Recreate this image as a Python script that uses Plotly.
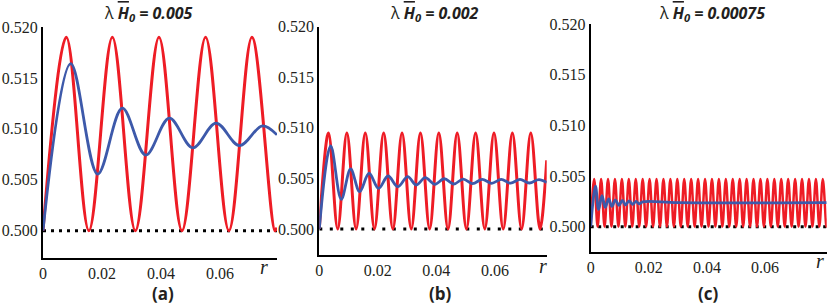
import plotly.graph_objects as go

# ---------------- data ----------------
# Panel (a): lambda*H0 = 0.005
a_red_r = [0, 0.0079, 0.01555, 0.0235, 0.0313, 0.0393, 0.0471, 0.0551, 0.0630, 0.0708, 0.0786, 0.0793]
a_red_y = [0.5, 0.519, 0.5, 0.519, 0.5, 0.519, 0.5, 0.519, 0.5, 0.519, 0.5, 0.5003]
a_blue_r = [0, 0.00939, 0.01854, 0.02688, 0.03481, 0.04281, 0.05075, 0.05864, 0.06654, 0.07434, 0.0793]
a_blue_y = [0.5, 0.5164, 0.50556, 0.51203, 0.50742, 0.51105, 0.50814, 0.51056, 0.50836, 0.51029, 0.50941]

# Panel (b): lambda*H0 = 0.002
b_red_r = [0, 0.00314, 0.00628, 0.00942, 0.01257, 0.01571, 0.01885, 0.02199, 0.02513, 0.02827,
           0.03142, 0.03456, 0.0377, 0.04084, 0.04398, 0.04712, 0.05027, 0.05341, 0.05655, 0.05969,
           0.06283, 0.06597, 0.06912, 0.07226, 0.0754, 0.0777]
b_red_y = [0.5, 0.5095, 0.5, 0.5095, 0.5, 0.5095, 0.5, 0.5095, 0.5, 0.5095,
           0.5, 0.5095, 0.5, 0.5095, 0.5, 0.5095, 0.5, 0.5095, 0.5, 0.5095,
           0.5, 0.5095, 0.5, 0.5095, 0.5, 0.5068]
b_blue_r = [0, 0.00389, 0.00750, 0.01070, 0.0138, 0.01700, 0.02025, 0.02350, 0.02680, 0.0302,
            0.03315, 0.0362, 0.03950, 0.04270, 0.04598, 0.04918, 0.05240, 0.05566, 0.05888, 0.06214,
            0.06537, 0.06857, 0.07178, 0.07505, 0.0777]
b_blue_y = [0.5, 0.50821, 0.50294, 0.50593, 0.50369, 0.50551, 0.50402, 0.50524, 0.50418, 0.50517,
            0.50435, 0.50507, 0.50442, 0.50497, 0.50445, 0.50494, 0.50448, 0.50491, 0.50452, 0.5049,
            0.50453, 0.5049, 0.50455, 0.50488, 0.5046]

# Panel (c): lambda*H0 = 0.00075
c_red_r = [0, 0.00119, 0.00238, 0.00358, 0.00477, 0.00596, 0.00715, 0.00834, 0.00954, 0.01073,
           0.01192, 0.01311, 0.0143, 0.0155, 0.01669, 0.01788, 0.01907, 0.02026, 0.02146, 0.02265,
           0.02384, 0.02503, 0.02622, 0.02742, 0.02861, 0.0298, 0.03099, 0.03218, 0.03338, 0.03457,
           0.03576, 0.03695, 0.03814, 0.03934, 0.04053, 0.04172, 0.04291, 0.0441, 0.0453, 0.04649,
           0.04768, 0.04887, 0.05006, 0.05126, 0.05245, 0.05364, 0.05483, 0.05602, 0.05722, 0.05841,
           0.0596, 0.06079, 0.06198, 0.06318, 0.06437, 0.06556, 0.06675, 0.06794, 0.06914, 0.07033,
           0.07152, 0.07271, 0.0739, 0.0751, 0.07629, 0.07748, 0.07867, 0.07986, 0.08106, 0.0812]
c_red_y = [0.5, 0.5047, 0.5, 0.5047, 0.5, 0.5047, 0.5, 0.5047, 0.5, 0.5047,
           0.5, 0.5047, 0.5, 0.5047, 0.5, 0.5047, 0.5, 0.5047, 0.5, 0.5047,
           0.5, 0.5047, 0.5, 0.5047, 0.5, 0.5047, 0.5, 0.5047, 0.5, 0.5047,
           0.5, 0.5047, 0.5, 0.5047, 0.5, 0.5047, 0.5, 0.5047, 0.5, 0.5047,
           0.5, 0.5047, 0.5, 0.5047, 0.5, 0.5047, 0.5, 0.5047, 0.5, 0.5047,
           0.5, 0.5047, 0.5, 0.5047, 0.5, 0.5047, 0.5, 0.5047, 0.5, 0.5047,
           0.5, 0.5047, 0.5, 0.5047, 0.5, 0.5047, 0.5, 0.5047, 0.5, 0.5008]
c_blue_r = [0, 0.00165, 0.0027, 0.0039, 0.0050, 0.0062, 0.0073, 0.0085, 0.0097, 0.0109,
            0.0120, 0.0132, 0.0144, 0.0156, 0.0167, 0.0179, 0.030, 0.0812]
c_blue_y = [0.5, 0.5040, 0.5017, 0.50305, 0.5019, 0.50275, 0.5020, 0.50265, 0.5021, 0.5026,
            0.50215, 0.50255, 0.5022, 0.5025, 0.50225, 0.50245, 0.50237, 0.50237]

baseline_y = 0.5
x_max = [0.0793, 0.0777, 0.0812]
y_min = [0.49735, 0.49743, 0.49753]
y_max = 0.520

x_tickvals = [0, 0.02, 0.04, 0.06]
x_ticktext = ["0", "0.02", "0.04", "0.06"]
y_tickvals = [0.500, 0.505, 0.510, 0.515, 0.520]
y_ticktext = ["0.500", "0.505", "0.510", "0.515", "0.520"]

lambda_h0 = ["0.005", "0.002", "0.00075"]
panel_labels = ["(a)", "(b)", "(c)"]
axis_label = "r"

# ---------------- styling ----------------
RED = "#ee1c25"
BLUE = "#3d59aa"
INK = "#231f20"
SERIF = "Liberation Serif, Times New Roman, serif"
SANS = "Open Sans, Noto Sans, sans-serif"

x_domains = [[43 / 830, 277 / 830], [319.3 / 830, 546.7 / 830], [590.7 / 830, 826.7 / 830]]
y_domains = [[1 - 257.7 / 308, 1 - 27 / 308], [1 - 255 / 308, 1 - 26.7 / 308], [1 - 251.7 / 308, 1 - 24 / 308]]
dot_dash = ["3px,5px", "3px,7.5px", "3px,4.5px"]
red_w = [3, 3, 2.5]

panels = [
    (a_red_r, a_red_y, a_blue_r, a_blue_y),
    (b_red_r, b_red_y, b_blue_r, b_blue_y),
    (c_red_r, c_red_y, c_blue_r, c_blue_y),
]

fig = go.Figure()
for i, (rr, ry, br, by) in enumerate(panels):
    sfx = "" if i == 0 else str(i + 1)
    xa, ya = "x" + sfx, "y" + sfx
    fig.add_trace(go.Scatter(x=[0, x_max[i]], y=[baseline_y, baseline_y], mode="lines",
                             line=dict(color="black", width=3, dash=dot_dash[i]),
                             xaxis=xa, yaxis=ya, hoverinfo="skip"))
    fig.add_trace(go.Scatter(x=rr, y=ry, mode="lines",
                             line=dict(color=RED, width=red_w[i], shape="spline", smoothing=1),
                             xaxis=xa, yaxis=ya))
    fig.add_trace(go.Scatter(x=br, y=by, mode="lines",
                             line=dict(color=BLUE, width=2.8, shape="spline", smoothing=1),
                             xaxis=xa, yaxis=ya))

layout = dict(width=830, height=308, margin=dict(l=0, r=0, t=0, b=0, autoexpand=False),
              paper_bgcolor="white", plot_bgcolor="white", showlegend=False)

for i in range(3):
    sfx = "" if i == 0 else str(i + 1)
    layout["xaxis" + sfx] = dict(domain=x_domains[i], range=[0, x_max[i]], anchor="y" + sfx,
                                 showgrid=False, zeroline=False, showline=True, linecolor="black",
                                 linewidth=2, ticks="", tickvals=x_tickvals, ticktext=x_ticktext,
                                 automargin=False,
                                 tickfont=dict(family=SERIF, size=16, color=INK))
    layout["yaxis" + sfx] = dict(domain=y_domains[i], range=[y_min[i], y_max], anchor="x" + sfx,
                                 showgrid=False, zeroline=False, showline=True, linecolor="black",
                                 linewidth=2, ticks="", tickvals=y_tickvals, ticktext=y_ticktext,
                                 automargin=False,
                                 tickfont=dict(family=SERIF, size=16, color=INK))

fig.update_layout(**layout)

title_x = [148 / 830, 434.7 / 830, 712 / 830]
title_y = 1 - 13.7 / 308
label_x = [162.5 / 830, 440 / 830, 708 / 830]
label_y = 1 - 293 / 308
r_pos = [(263.7, 267), (543.3, 266), (820, 261)]

for i in range(3):
    txt = ("λ <b><i><span style='text-decoration:overline'>H</span><sub>0</sub> = "
           + lambda_h0[i] + "</i></b>")
    fig.add_annotation(x=title_x[i], y=title_y, xref="paper", yref="paper", text=txt,
                       showarrow=False, xanchor="center", yanchor="middle",
                       font=dict(family=SANS, size=16, color=INK))
    fig.add_annotation(x=label_x[i], y=label_y, xref="paper", yref="paper",
                       text="<b>" + panel_labels[i] + "</b>", showarrow=False,
                       xanchor="center", yanchor="middle",
                       font=dict(family=SANS, size=17, color=INK))
    fig.add_annotation(x=r_pos[i][0] / 830, y=1 - r_pos[i][1] / 308, xref="paper", yref="paper",
                       text="<i>" + axis_label + "</i>", showarrow=False,
                       xanchor="center", yanchor="middle",
                       font=dict(family=SERIF, size=20, color=INK))

fig.write_html("out.html",
               config={"displayModeBar": False, "staticPlot": True},
               post_script="document.body.style.margin='0';document.body.style.padding='0';"
                           "document.body.style.overflow='hidden';")
